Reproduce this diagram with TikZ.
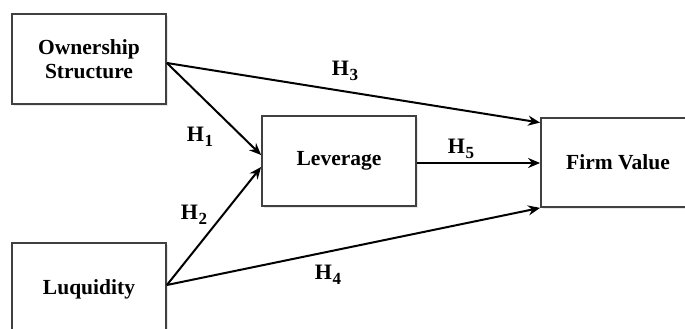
\documentclass[tikz,border=0pt]{standalone}
\usepackage{fontspec}
\setmainfont{Liberation Serif}
\usetikzlibrary{arrows.meta,shadows}
\newcommand\hyplab[1]{H\kern0.5pt\raisebox{-5pt}{\fontsize{17}{17}\selectfont #1}}
\begin{document}
\begin{tikzpicture}[x=1pt,y=-1pt,
  box/.style={draw=black!75,line width=1.8pt,fill=white,inner sep=0pt,
    minimum width=154pt,minimum height=90pt,align=center,
    font=\bfseries\fontsize{21.5}{24}\selectfont,
    drop shadow={shadow xshift=2pt,shadow yshift=-2pt,opacity=0.18}},
  hyp/.style={font=\bfseries\fontsize{22}{24}\selectfont,inner sep=0pt},
  arr/.style={line width=2pt,-{Stealth[length=12pt,width=10pt]}}]
\useasboundingbox (0,0) rectangle (685,329);
\clip (0,0) rectangle (685,329);
\node[box] (own) at (89,59) {Ownership\\Structure};
\node[box,minimum height=92pt] (luq) at (89,289) {Luquidity};
\node[box] (lev) at (339,161) {Leverage};
\node[box,minimum height=89pt] (firm) at (618,162.5) {Firm Value};
\draw[arr] ([yshift=-4pt]own.east) -- ([yshift=6pt]lev.west);
\draw[arr] ([yshift=-4pt]own.east) -- ([yshift=-5.5pt]firm.north west);
\draw[arr] ([yshift=4pt]luq.east) -- ([yshift=-6pt]lev.west);
\draw[arr] ([yshift=4pt]luq.east) -- (firm.south west);
\draw[arr] ([yshift=-2pt]lev.east) -- ([yshift=-2pt]lev.east -| firm.west);
\node[hyp] (h1) at (200,137) {\hyplab{1}};
\node[hyp] (h2) at (194,215) {\hyplab{2}};
\node[hyp] (h3) at (345,71) {\hyplab{3}};
\node[hyp] (h4) at (328,275) {\hyplab{4}};
\node[hyp] (h5) at (461,149) {\hyplab{5}};
\end{tikzpicture}
\end{document}
